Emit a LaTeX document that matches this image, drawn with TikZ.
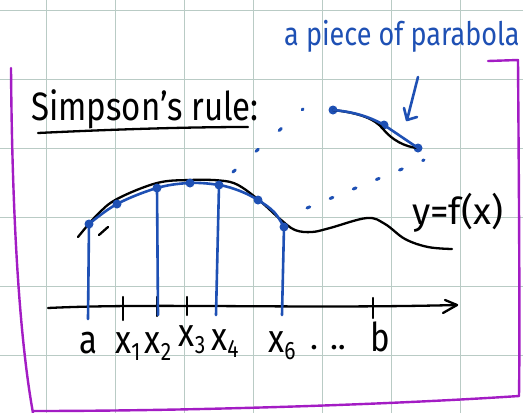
\documentclass[tikz,border=0pt]{standalone}
\usepackage{fontspec}
\setmainfont{Fira Sans}
\usepackage{graphicx}
\definecolor{ink}{HTML}{1E50B4}
\definecolor{framec}{HTML}{A31CC4}
\definecolor{gridc}{HTML}{B9CBC5}
\newcommand{\xlbl}[2]{#1\raisebox{-6pt}{\fontsize{21}{21}\selectfont #2}}
\newcommand{\tallx}[1]{\scalebox{1}[1.2]{#1}}
\begin{document}
\begin{tikzpicture}[x=1pt,y=-1pt,
  gridline/.style={draw=gridc,line width=1.1pt},
  framepen/.style={draw=framec,line width=2.4pt,line cap=round,line join=round},
  blackpen/.style={draw=black,line width=2.3pt,line cap=round,line join=round},
  bluepen/.style={draw=ink,line width=2.6pt,line cap=round,line join=round},
  dotpen/.style={draw=ink,line width=3pt,line cap=round},
  dot/.style={circle,fill=ink,inner sep=0pt,minimum size=9pt},
  lbl/.style={anchor=base,inner sep=0pt,font=\fontsize{33}{33}\selectfont},
  title/.style={anchor=base west,inner sep=0pt,font=\fontsize{33}{33}\selectfont},
  note/.style={anchor=base west,inner sep=0pt,text=ink,font=\fontsize{27}{27}\selectfont}]
\useasboundingbox (0,0) rectangle (523,413);
\fill[white] (0,0) rectangle (523,413);
% grid
\foreach \gx in {46.5,115.5,184.6,253.7,322.7,391.8,460.8}
  \draw[gridline] (\gx,0) -- (\gx,413);
\foreach \gy in {10.5,79.5,148.5,217.5,286.5,355.5}
  \draw[gridline] (0,\gy) -- (523,\gy);
% frame
\draw[framepen] (11,68) .. controls (12,200) and (18,330) .. (33,413);
\draw[framepen] (33,411) .. controls (200,411) and (400,404) .. (519,396);
\draw[framepen] (488,61) -- (518,60) .. controls (519,200) and (520,330) .. (519,396);
% title
\node[title] (title) at (31,120) {\tallx{Simpson's rule:}};
\coordinate (ul0) at (38,133);
\coordinate (ul1) at (248,127);
\draw[blackpen] (ul0) .. controls (100,130) and (180,127) .. (ul1);
% note
\node[note] (note) at (284,45) {\tallx{a piece of parabola}};
\coordinate (ar0) at (418,77);
\coordinate (ar1) at (407,120);
\draw[bluepen] (ar0) -- (ar1);
\draw[bluepen] (404,108) -- (ar1) -- (417,117);
% function curve
\draw[blackpen] plot[smooth,tension=0.6] coordinates {(78,237) (97,215) (117,199) (157,183) (190,180) (220,180.5) (238,185) (260,201) (280,219) (295,230) (312,232) (330,228) (367,218) (385,224) (405,239) (428,247) (452,249)};
\draw[blackpen] (99,235) -- (108,227);
\node[lbl,anchor=base west,font=\fontsize{37}{37}\selectfont] (fx) at (412,224) {y=f(x)};
% axis
\coordinate (axL) at (48,308);
\coordinate (axR) at (457,305);
\draw[blackpen] (axL) .. controls (150,303) and (300,309) .. (axR);
\draw[blackpen] (445,300) -- (axR) -- (443,313);
% ticks
\draw[blackpen] (88,292) -- (88,318);
\draw[blackpen] (123,297) -- (123,320);
\draw[blackpen] (157,297) -- (157,316);
\draw[blackpen] (187,297) -- (187,315);
\draw[blackpen] (373,298) -- (373,318);
% blue approximation
\node[dot] (p0) at (89,224) {};
\node[dot] (p1) at (117,204) {};
\node[dot] (p2) at (157,188) {};
\node[dot] (p3) at (190,183) {};
\node[dot] (p4) at (219,185) {};
\node[dot] (p5) at (258,200) {};
\node[dot] (p6) at (284,227) {};
\draw[bluepen] plot[smooth,tension=0.6] coordinates {(89,224) (117,204) (157,188) (190,183) (219,185) (240,191) (258,200) (274,212) (284,227)};
\coordinate (b0) at (88,319);
\coordinate (b2) at (158,315);
\coordinate (b4) at (216,315);
\coordinate (b6) at (282,315);
\draw[bluepen] (p0.center) -- (b0);
\draw[bluepen] (p2.center) -- (b2);
\draw[bluepen] (p4.center) -- (b4);
\draw[bluepen] (p6.center) -- (b6);
% labels
\node[lbl] (la) at (88,353) {\tallx{a}};
\node[lbl] (l1) at (128,353) {\tallx{\xlbl{x}{1}}};
\node[lbl] (l2) at (158,353) {\tallx{\xlbl{x}{2}}};
\node[lbl] (l3) at (192,346) {\tallx{\xlbl{x}{3}}};
\node[lbl] (l4) at (225,350) {\tallx{\xlbl{x}{4}}};
\node[lbl] (l6) at (282,352) {\tallx{\xlbl{x}{6}}};
\node[lbl] (ldots) at (328,349) {.\hspace{12pt}..};
\node[lbl] (lb) at (380,351) {\tallx{b}};
% parabola piece
\node[dot] (qa) at (333,110) {};
\node[dot] (qb) at (384,125) {};
\node[dot] (qc) at (418,148) {};
\draw[blackpen] (qa.center) .. controls (360,113) and (375,119) .. (383,129) .. controls (392,140) and (405,147) .. (qc.center);
\draw[bluepen] (qa.center) .. controls (355,112) and (370,117) .. (qb.center) -- (qc.center);
% dotted guide lines
\coordinate (d1a) at (233,172);
\coordinate (d1b) at (303,109);
\draw[dotpen,dash pattern=on 3pt off 28pt] (d1a) -- (d1b);
\coordinate (d2a) at (307,208);
\coordinate (d2b) at (424,160);
\draw[dotpen,dash pattern=on 3pt off 22pt] (d2a) -- (d2b);
\end{tikzpicture}
\end{document}
